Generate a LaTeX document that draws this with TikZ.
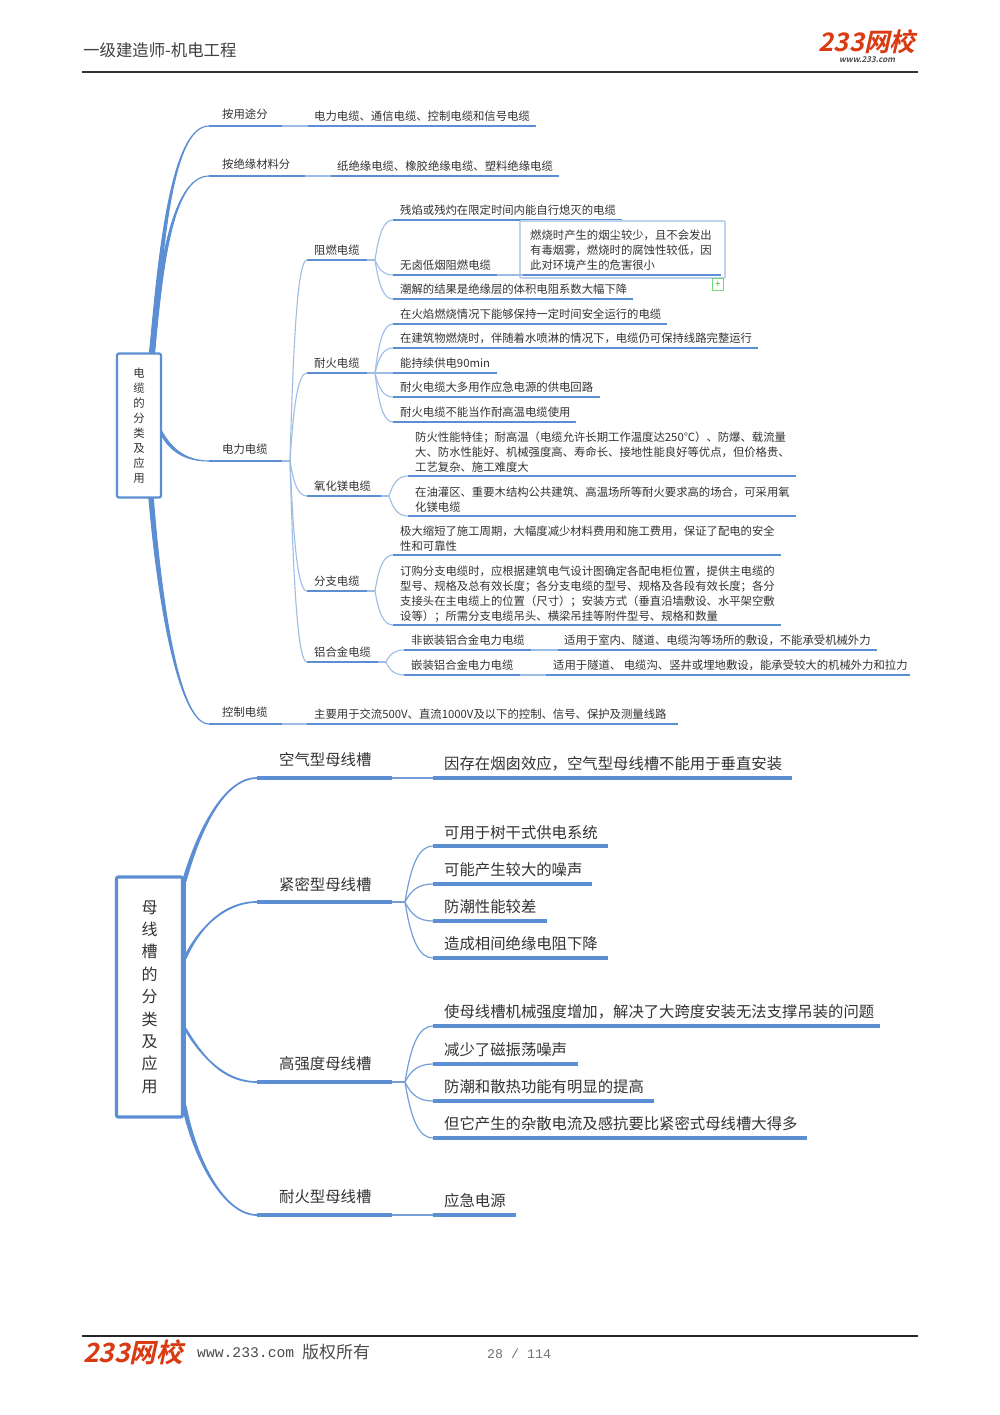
\documentclass[tikz,border=0pt]{standalone}
\usepackage{fontspec}
\usetikzlibrary{calc}
\setmainfont{Noto Sans CJK SC}
\newfontfamily\logof[FakeSlant=0.22]{Noto Sans CJK SC Bold}
\newfontfamily\monof{Liberation Mono}
\definecolor{bl}{HTML}{5B8ED2}
\definecolor{thl}{HTML}{9DBDE4}
\definecolor{tx}{HTML}{333333}
\definecolor{logor}{HTML}{D93A12}
\tikzset{
  ula/.style={draw=bl,line width=2.1pt},
  ulb/.style={draw=bl,line width=3.1pt},
  thinl/.style={draw=thl,line width=1.1pt},
  thinb/.style={draw=bl!85,line width=1.2pt},
  tapf/.style={fill=bl,draw=bl,line width=1.1pt},
  tapg/.style={fill=bl,draw=bl,line width=1.7pt},
  txa/.style={inner sep=0pt,anchor=west,align=left,text=tx,font=\fontsize{11.35pt}{15pt}\selectfont},
  txb/.style={inner sep=0pt,anchor=west,align=left,text=tx,font=\fontsize{15.36pt}{19pt}\selectfont},
  rootbox/.style={draw=bl,rounded corners=2pt,fill=white,align=center,text=tx,inner sep=0pt},
  notebox/.style={draw=bl!40,line width=1.7pt,rounded corners=1pt},
  plusbox/.style={draw=green!55!gray!70,line width=.9pt,inner sep=0pt,minimum size=11.5pt,text=green!55!gray,font=\fontsize{10pt}{10pt}\selectfont},
  rule/.style={draw=black!80,line width=1.4pt},
}
\def\off{10}
\def\tapstyle{tapf}
\newcommand\Ta[7][ula]{\coordinate (#2-w) at (#3,#5);\coordinate (#2-e) at (#4,#5);\draw[#1] (#2-w)--(#2-e);\node[txa] (#2) at (#6,{#5-\off}) {#7};}
\newcommand\Tm[7]{\coordinate (#1-w) at (#2,#4);\coordinate (#1-e) at (#3,#4);\draw[ula] (#1-w)--(#1-e);\node[txa] (#1) at (#5,#6) {#7};}
\newcommand\Lb[6]{\coordinate (#1-w) at (#2,#4);\coordinate (#1-e) at (#3,#4);\draw[ulb] (#1-w)--(#1-e);\node[txb] (#1) at (#5,{#6+.4}) {\csname lab#1\endcsname};}
\newcommand\Cv[3][thinl]{\draw[#1] let \p1=(#2),\p2=(#3) in (\p1) .. controls ({\x1+.22*(\x2-\x1)},{\y1+.68*(\y2-\y1)}) and ({\x1+.5*(\x2-\x1)},{\y2}) .. (\p2);}
\newcommand\Tap[7]{\filldraw[\tapstyle] let \p1=(#1),\p2=(#2) in ({\x1+#6},{\y1+#7}) .. controls ({\x1+#3*(\x2-\x1)+.8*#6},{\y1+#4*(\y2-\y1)+.8*#7}) and ({\x1+#5*(\x2-\x1)},{\y2}) .. (\p2) .. controls ({\x1+#5*(\x2-\x1)},{\y2}) and ({\x1+#3*(\x2-\x1)-.8*#6},{\y1+#4*(\y2-\y1)-.8*#7}) .. ({\x1-#6},{\y1-#7}) -- cycle;}
\def\labm{空气型母线槽}
\def\labn{紧密型母线槽}
\def\labo{高强度母线槽}
\def\labp{耐火型母线槽}
\def\labma{因存在烟囱效应，空气型母线槽不能用于垂直安装}
\def\labna{可用于树干式供电系统}
\def\labnb{可能产生较大的噪声}
\def\labnc{防潮性能较差}
\def\labnd{造成相间绝缘电阻下降}
\def\laboa{使母线槽机械强度增加，解决了大跨度安装无法支撑吊装的问题}
\def\labob{减少了磁振荡噪声}
\def\laboc{防潮和散热功能有明显的提高}
\def\labod{但它产生的杂散电流及感抗要比紧密式母线槽大得多}
\def\labpa{应急电源}
\begin{document}
\begin{tikzpicture}[x=1pt,y=-1pt]
\useasboundingbox (0,0) rectangle (1000,1415);
\fill[white] (0,0) rectangle (1000,1415);
% header
\node[inner sep=0pt,anchor=west,text=black!75,font=\fontsize{16.4pt}{18pt}\selectfont] (head) at (83,50) {一级建造师-机电工程};
\coordinate (hl) at (82,72);\coordinate (hr) at (918,72);
\draw[rule] (hl)--(hr);
\node[inner sep=0pt,anchor=center,text=logor,font=\logof\fontsize{25.5pt}{26pt}\selectfont] (logo1) at (867,42) {233网校};
\node[inner sep=0pt,anchor=center,text=black!70,font=\logof\fontsize{8pt}{9pt}\selectfont] (logo1b) at (867,60) {www.233.com};
% footer
\coordinate (fl) at (82,1336);\coordinate (fr) at (918,1336);
\draw[draw=black!85,line width=1.2pt] (fl)--(fr);
\node[inner sep=0pt,anchor=center,text=logor,font=\logof\fontsize{26.5pt}{27pt}\selectfont] (logo2) at (133,1352) {233网校};
\node[inner sep=0pt,anchor=west,text=black!70,font=\monof\fontsize{14.7pt}{16pt}\selectfont] (www) at (197,1353) {www.233.com};
\node[inner sep=0pt,anchor=west,text=black!70,font=\fontsize{17pt}{18pt}\selectfont] (rights) at (302,1352) {版权所有};
\node[inner sep=0pt,anchor=west,text=black!55,font=\monof\fontsize{13.3pt}{16pt}\selectfont] (page) at (487,1354) {28 / 114};

% ---------- map 1
\coordinate (r1a) at (152,353);\coordinate (r1b) at (162,434);\coordinate (r1c) at (151,497);
\def\off{12}
\Ta{a1}{209}{282}{126}{222}{按用途分}
\Ta{a2}{209}{305}{176}{222}{按绝缘材料分}
\Ta{a3}{209}{282}{461}{222}{电力电缆}
\Ta{a4}{209}{282}{724}{222}{控制电缆}
\def\off{10}
\Tap{r1a}{a1-w}{.14}{.41}{.32}{2.4pt}{0pt}
\Tap{r1a}{a2-w}{.14}{.42}{.32}{2.4pt}{0pt}
\Tap{r1b}{a3-w}{.2}{.6}{.5}{0pt}{2.2pt}
\Tap{r1c}{a4-w}{.16}{.5}{.5}{2.2pt}{0pt}
\node[rootbox,line width=2.2pt,minimum width=44pt,minimum height=144pt,font=\fontsize{11.4pt}{15pt}\selectfont] (r1) at (139,425.5) {电\\缆\\的\\分\\类\\及\\应\\用};
\Ta{a1c}{308}{536}{126}{314}{电力电缆、通信电缆、控制电缆和信号电缆}
\Ta{a2c}{331}{559}{176}{337}{纸绝缘电缆、橡胶绝缘电缆、塑料绝缘电缆}
\Ta{a4c}{307}{678}{724}{314}{主要用于交流500V、直流1000V及以下的控制、信号、保护及测量线路}
\draw[thinl] (a1-e)--(a1c-w);
\draw[thinl] (a2-e)--(a2c-w);
\draw[thinl] (a4-e)--(a4c-w);
\coordinate (j3) at (290,461);
\draw[thinl] (a3-e)--(j3);
\Ta{b1}{307}{367}{260}{314}{阻燃电缆}
\Ta{b2}{307}{367}{373}{314}{耐火电缆}
\Ta{b3}{307}{381}{496}{314}{氧化镁电缆}
\Ta{b4}{307}{367}{591}{314}{分支电缆}
\Ta{b5}{307}{378}{662}{314}{铝合金电缆}
\Cv{j3}{b1-w}\Cv{j3}{b2-w}\Cv{j3}{b3-w}\Cv{j3}{b4-w}\Cv{j3}{b5-w}
% 阻燃
\coordinate (jb1) at (375,260);\draw[thinl] (b1-e)--(jb1);
\Ta{c1}{393}{622}{220}{400}{残焰或残灼在限定时间内能自行熄灭的电缆}
\Ta{c2}{393}{497}{275}{400}{无卤低烟阻燃电缆}
\Ta{c3}{393}{633}{299}{400}{潮解的结果是绝缘层的体积电阻系数大幅下降}
\Cv{jb1}{c1-w}\Cv{jb1}{c2-w}\Cv{jb1}{c3-w}
\draw[notebox] (520,221) rectangle (725,278);
\Tm{c2n}{523}{721}{275}{530}{250.5}{燃烧时产生的烟尘较少，且不会发出\\有毒烟雾，燃烧时的腐蚀性较低，因\\此对环境产生的危害很小}
\draw[thinl] (c2-e)--(c2n-w);
\node[plusbox] (plus) at (718,284.5) {+};
% 耐火
\coordinate (jb2) at (375,373);\draw[thinl] (b2-e)--(jb2);
\Ta{d1}{393}{667}{324}{400}{在火焰燃烧情况下能够保持一定时间安全运行的电缆}
\Ta{d2}{393}{758}{348}{400}{在建筑物燃烧时，伴随着水喷淋的情况下，电缆仍可保持线路完整运行}
\Ta{d3}{393}{497}{373}{400}{能持续供电90min}
\Ta{d4}{393}{600}{397}{400}{耐火电缆大多用作应急电源的供电回路}
\Ta{d5}{393}{576}{422}{400}{耐火电缆不能当作耐高温电缆使用}
\Cv{jb2}{d1-w}\Cv{jb2}{d2-w}\Cv{jb2}{d3-w}\Cv{jb2}{d4-w}\Cv{jb2}{d5-w}
% 氧化镁
\coordinate (jb3) at (389,496);\draw[thinl] (b3-e)--(jb3);
\Tm{e1}{408}{796}{476}{415}{452}{防火性能特佳；耐高温（电缆允许长期工作温度达250℃）、防爆、载流量\\大、防水性能好、机械强度高、寿命长、接地性能良好等优点，但价格贵、\\工艺复杂、施工难度大}
\Tm{e2}{408}{796}{516}{415}{499.3}{在油灌区、重要木结构公共建筑、高温场所等耐火要求高的场合，可采用氧\\化镁电缆}
\Cv{jb3}{e1-w}\Cv{jb3}{e2-w}
% 分支
\coordinate (jb4) at (375,591);\draw[thinl] (b4-e)--(jb4);
\Tm{f1}{393}{781}{555}{400}{539}{极大缩短了施工周期，大幅度减少材料费用和施工费用，保证了配电的安全\\性和可靠性}
\Tm{f2}{393}{781}{625}{400}{594.3}{订购分支电缆时，应根据建筑电气设计图确定各配电柜位置，提供主电缆的\\型号、规格及总有效长度；各分支电缆的型号、规格及各段有效长度；各分\\支接头在主电缆上的位置（尺寸）；安装方式（垂直沿墙敷设、水平架空敷\\设等）；所需分支电缆吊头、横梁吊挂等附件型号、规格和数量}
\Cv{jb4}{f1-w}\Cv{jb4}{f2-w}
% 铝合金
\coordinate (jb5) at (386,662);\draw[thinl] (b5-e)--(jb5);
\Ta{g1}{404}{531}{650}{411}{非嵌装铝合金电力电缆}
\Ta{g2}{404}{520}{675}{411}{嵌装铝合金电力电缆}
\Ta{g1c}{558}{877}{650}{564}{适用于室内、隧道、电缆沟等场所的敷设，不能承受机械外力}
\Ta{g2c}{546}{910}{675}{553}{适用于隧道、 电缆沟、竖井或埋地敷设，能承受较大的机械外力和拉力}
\Cv{jb5}{g1-w}\Cv{jb5}{g2-w}
\draw[thinl] (g1-e)--(g1c-w);
\draw[thinl] (g2-e)--(g2c-w);

% ---------- map 2
\def\tapstyle{tapg}
\coordinate (r2a) at (184,882);\coordinate (r2b) at (184,960);\coordinate (r2c) at (184,1027);\coordinate (r2d) at (184,1105);
\Lb{m}{257}{392}{778}{279}{759}
\Lb{n}{257}{392}{902}{279}{884}
\Lb{o}{257}{392}{1082}{279}{1063}
\Lb{p}{257}{392}{1215}{279}{1196}
\Tap{r2a}{m-w}{.2}{.5}{.55}{1.8pt}{1.2pt}
\Tap{r2b}{n-w}{.2}{.55}{.55}{1.8pt}{1.8pt}
\Tap{r2c}{o-w}{.25}{.55}{.55}{1.8pt}{-1.8pt}
\Tap{r2d}{p-w}{.15}{.5}{.55}{1.8pt}{-1.2pt}
\node[rootbox,line width=3.2pt,minimum width=66pt,minimum height=240pt,font=\fontsize{16pt}{22.4pt}\selectfont] (r2) at (149.5,997) {母\\线\\槽\\的\\分\\类\\及\\应\\用};
\draw[draw=bl,line width=3.6pt] (r2a)--(r2d);
\Lb{ma}{433}{792}{778}{444}{763}
\Lb{pa}{433}{516}{1215}{444}{1200}
\draw[thinb] (m-e)--(ma-w);
\draw[thinb] (p-e)--(pa-w);
\coordinate (jn) at (405,902);\coordinate (jo) at (405,1082);
\draw[thinb] (n-e)--(jn);\draw[thinb] (o-e)--(jo);
\Lb{na}{433}{608}{846}{444}{832}
\Lb{nb}{433}{592}{884}{444}{869}
\Lb{nc}{433}{547}{921}{444}{906}
\Lb{nd}{433}{608}{958}{444}{943}
\Cv[thinb]{jn}{na-w}\Cv[thinb]{jn}{nb-w}\Cv[thinb]{jn}{nc-w}\Cv[thinb]{jn}{nd-w}
\Lb{oa}{433}{880}{1026}{444}{1011}
\Lb{ob}{433}{578}{1064}{444}{1049}
\Lb{oc}{433}{654}{1101}{444}{1086}
\Lb{od}{433}{807}{1138}{444}{1123}
\Cv[thinb]{jo}{oa-w}\Cv[thinb]{jo}{ob-w}\Cv[thinb]{jo}{oc-w}\Cv[thinb]{jo}{od-w}
\end{tikzpicture}
\end{document}
